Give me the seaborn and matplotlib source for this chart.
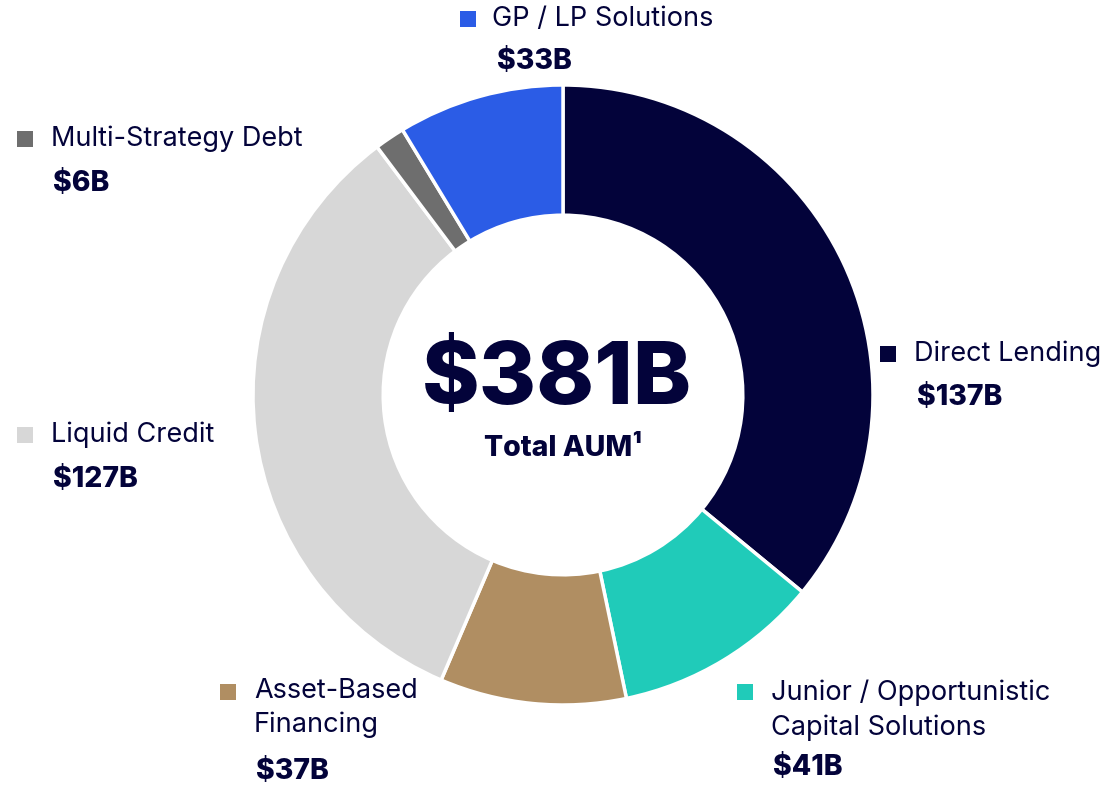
import matplotlib
matplotlib.use("Agg")
import matplotlib.pyplot as plt
import seaborn as sns
from matplotlib.patches import Rectangle

sns.set_theme(style="white")
plt.rcParams['font.family'] = ['Inter', 'Liberation Sans', 'DejaVu Sans']

categories = ["Direct Lending", "Junior / Opportunistic\nCapital Solutions", "Asset-Based\nFinancing",
              "Liquid Credit", "Multi-Strategy Debt", "GP / LP Solutions"]
values = [137, 41, 37, 127, 6, 33]
value_labels = ["$137B", "$41B", "$37B", "$127B", "$6B", "$33B"]
colors = ["#03033A", "#20CBB9", "#B08E62", "#D7D7D7", "#6E6E6E", "#2B5CE6"]
total_label = "$381B"
total_sub = "Total AUM\u00b9"

W, H = 1118, 785
fig = plt.figure(figsize=(W / 100, H / 100), dpi=100)
ax = fig.add_axes([253 / W, 80 / H, 620 / W, 620 / H])
ax.pie(values, colors=colors, startangle=90, counterclock=False, radius=1.0,
       wedgeprops=dict(width=0.42, edgecolor="white", linewidth=2.5))
ax.set_xlim(-1.0, 1.0)
ax.set_ylim(-1.0, 1.0)
ax.set_aspect("equal")
ax.axis("off")

navy = "#03033A"

def ftext(x, y, s, **kw):
    fig.text(x / W, 1 - y / H, s, **kw)

def square(x, y, c):
    fig.patches.append(Rectangle((x / W, 1 - (y + 16) / H), 16 / W, 16 / H,
                                 transform=fig.transFigure, facecolor=c, edgecolor="none"))

# label layout: (square x, square y, text x, text y, value x, value y)
layout = [
    (880, 346, 914, 354, 917, 397),
    (737, 684, 771, 710, 773, 768),
    (220, 684, 254, 708, 256, 771),
    (17, 427, 51, 435, 53, 480),
    (17, 131, 51, 139, 53, 184),
    (460, 11, 492, 19, 497, 62),
]
for (sx, sy, tx, ty, vx, vy), cat, val, c in zip(layout, categories, value_labels, colors):
    square(sx, sy, c)
    ftext(tx, ty, cat, fontsize=19.5, color=navy, va="center", ha="left", linespacing=1.4)
    ftext(vx, vy, val, fontsize=20.5, color=navy, va="center", ha="left", fontweight="heavy")

ftext(557, 382, total_label, fontsize=63, color=navy, va="center", ha="center", fontweight="heavy")
ftext(563, 449, total_sub, fontsize=20.5, color=navy, va="center", ha="center", fontweight="heavy")

fig.savefig("out.png", dpi=100, facecolor="white")
